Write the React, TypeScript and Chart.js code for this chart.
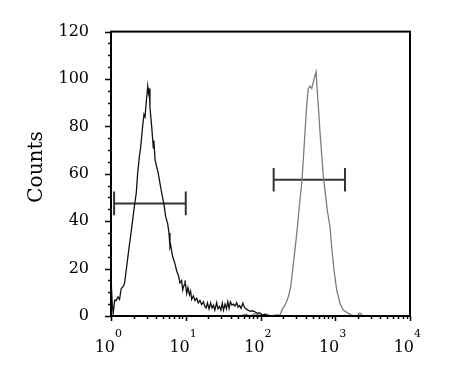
import React, { useEffect, useRef } from "react";
import { Chart, registerables } from "chart.js";
Chart.register(...registerables);

// Black histogram (isotype / negative)
const blackX = [1.0, 1.0, 1.04, 1.07, 1.12, 1.17, 1.24, 1.3, 1.37, 1.46, 1.52, 1.6, 1.73, 1.87, 2.03, 2.18, 2.27, 2.39, 2.49, 2.65, 2.76, 2.85, 3.0, 3.1, 3.18, 3.26, 3.32, 3.5, 3.68, 3.75, 3.88, 4.08, 4.3, 4.52, 4.76, 5.12, 5.38, 5.73, 5.97, 6.15, 6.28, 6.68, 7.18, 7.57, 8.0, 8.37, 8.8, 9.1, 9.5, 9.77, 10.3, 10.7, 11.2, 11.6, 12.0, 12.6, 13.3, 14.0, 14.7, 15.5, 16.3, 17.2, 18.0, 18.7, 19.5, 20.5, 21.5, 22.5, 23.5, 24.5, 25.9, 27, 28.3, 29.5, 30.8, 32, 33.5, 35, 36.5, 38, 39.5, 41.5, 43.5, 45.5, 48, 50, 52.5, 55, 58, 61, 64, 68, 73, 78, 84, 90, 98, 106, 115, 125, 180];
const blackY = [0, 16, 5, 1, 6.7, 6.5, 8, 7, 11.6, 12.5, 14, 19.4, 28, 36, 45, 52, 60, 67, 71, 80, 85, 84, 92, 97, 94, 96, 88, 80, 71, 74, 66, 63, 60, 56, 52, 47, 42, 39, 35, 29, 30, 25, 22, 19, 17, 14, 15, 11, 13, 15, 9.5, 12, 9, 10.5, 7, 8.5, 6.5, 7.5, 5.5, 6.5, 4.8, 6, 4, 3.4, 5.5, 3, 5.5, 3.4, 4.6, 2.5, 5.6, 3, 4, 2.5, 5.4, 2.5, 5, 3, 6, 3.2, 6, 4.6, 5, 4.2, 5.6, 3.8, 4.4, 3.2, 5.4, 3.6, 3, 2.5, 2, 2.2, 1.8, 1.2, 1.3, 0.4, 0.8, 0, 0];

// Gray histogram (stained)
const grayX = [40, 53, 64, 72, 84, 98, 119, 143, 161, 182, 198, 213, 236, 254, 275, 299, 315, 330, 345, 356, 374, 394, 415, 436, 460, 484, 509, 536, 553, 576, 601, 625, 659, 692, 729, 783, 851, 896, 962, 1045, 1158, 1282, 1496, 1660, 1896, 2143, 2350, 10000];
const grayY = [0, 0, 0.8, 0, 1.0, 0.3, 0.8, 0, 0.5, 0.4, 3.2, 4.6, 8.1, 12.4, 22, 32, 39, 46, 52, 56, 66, 77.6, 89, 96, 97, 96, 98.7, 101.5, 103, 94.4, 86, 77.6, 67.8, 59, 53, 44.6, 37.6, 29, 19.4, 11, 5.3, 2.5, 1.1, 0.4, 0, 1.2, 0, 0];

// Gate markers
const gateLeftX = [1.1, 10];
const gateLeftY = 47.5;
const gateRightX = [150, 1350];
const gateRightY = 57.5;
const gateCapHalf = 5;

// Axes
const yTickValues = [0, 20, 40, 60, 80, 100, 120];
const xDecadeExponents = [0, 1, 2, 3, 4];
const yTitle = "Counts";

const FONT = "'DejaVu Serif', serif";

function gateDatasets(xs: number[], y: number) {
  const style = {
    borderColor: "#333333",
    borderWidth: 2,
    pointRadius: 0,
    tension: 0,
    fill: false,
  };
  return [
    { ...style, data: [{ x: xs[0], y }, { x: xs[1], y }] },
    { ...style, data: [{ x: xs[0], y: y - gateCapHalf }, { x: xs[0], y: y + gateCapHalf }] },
    { ...style, data: [{ x: xs[1], y: y - gateCapHalf }, { x: xs[1], y: y + gateCapHalf }] },
  ];
}

const decorPlugin = {
  id: "decor",
  afterDraw(chart: any) {
    const { ctx, chartArea } = chart;
    const xs = chart.scales.x;
    const ys = chart.scales.y;
    const { left, right, top, bottom } = chartArea;
    ctx.save();
    ctx.strokeStyle = "#000";
    ctx.fillStyle = "#000";
    // frame
    ctx.lineWidth = 2;
    ctx.strokeRect(left, top, right - left, bottom - top);
    // y ticks (major every 20, minor every 5)
    ctx.lineWidth = 1.5;
    ctx.beginPath();
    for (let v = 0; v <= 120; v += 5) {
      const py = Math.round(ys.getPixelForValue(v)) + 0.5;
      const len = yTickValues.includes(v) ? 6 : 3;
      ctx.moveTo(left - len, py);
      ctx.lineTo(left, py);
    }
    // x ticks (log)
    for (let k = 0; k < 4; k++) {
      for (let m = 1; m <= 9; m++) {
        const px = Math.round(xs.getPixelForValue(m * Math.pow(10, k))) + 0.5;
        const len = m === 1 ? 5 : 3;
        ctx.moveTo(px, bottom);
        ctx.lineTo(px, bottom + len);
      }
    }
    const pxEnd = Math.round(xs.getPixelForValue(10000)) + 0.5;
    ctx.moveTo(pxEnd, bottom);
    ctx.lineTo(pxEnd, bottom + 5);
    ctx.stroke();
    // x labels 10^k
    for (const k of xDecadeExponents) {
      const px = xs.getPixelForValue(Math.pow(10, k));
      ctx.font = `16px ${FONT}`;
      ctx.textAlign = "right";
      ctx.textBaseline = "alphabetic";
      ctx.fillText("10", px + 4, 352);
      ctx.font = `11px ${FONT}`;
      ctx.textAlign = "left";
      ctx.fillText(String(k), px + 4, 337);
    }
    // y title
    ctx.translate(42, 167);
    ctx.rotate(-Math.PI / 2);
    ctx.font = `20px ${FONT}`;
    ctx.textAlign = "center";
    ctx.textBaseline = "alphabetic";
    ctx.fillText(yTitle, 0, 0);
    ctx.restore();
  },
};

export default function App() {
  const ref = useRef<HTMLCanvasElement | null>(null);
  useEffect(() => {
    if (!ref.current) return;
    const chart = new Chart(ref.current, {
      type: "line",
      data: {
        datasets: [
          {
            data: blackX.map((x, i) => ({ x, y: blackY[i] })),
            borderColor: "#111111",
            borderWidth: 1.3,
            pointRadius: 0,
            tension: 0,
            fill: false,
          },
          {
            data: grayX.map((x, i) => ({ x, y: grayY[i] })),
            borderColor: "#7c7c7c",
            borderWidth: 1.3,
            pointRadius: 0,
            tension: 0,
            fill: false,
          },
          ...gateDatasets(gateLeftX, gateLeftY),
          ...gateDatasets(gateRightX, gateRightY),
        ],
      },
      options: {
        animation: false,
        responsive: false,
        maintainAspectRatio: false,
        layout: { padding: { left: 0, top: 31, right: 39, bottom: 0 } },
        plugins: { legend: { display: false }, tooltip: { enabled: false }, title: { display: false } },
        scales: {
          x: {
            type: "logarithmic",
            min: 1,
            max: 10000,
            grid: { display: false, drawTicks: false },
            border: { display: false },
            ticks: { display: false },
            afterFit: (s: any) => {
              s.height = 63;
            },
          },
          y: {
            type: "linear",
            min: 0,
            max: 120,
            grid: { display: false, drawTicks: false },
            border: { display: false },
            ticks: {
              stepSize: 20,
              padding: 22,
              color: "#000",
              font: { family: FONT, size: 16 },
            },
            afterFit: (s: any) => {
              s.width = 111;
            },
          },
        },
      },
      plugins: [decorPlugin],
    });
    return () => chart.destroy();
  }, []);
  return (
    <div style={{ position: "fixed", left: 0, top: 0, width: 449, height: 379, background: "#fff" }}>
      <canvas ref={ref} width={449} height={379} style={{ display: "block", width: 449, height: 379 }} />
    </div>
  );
}
